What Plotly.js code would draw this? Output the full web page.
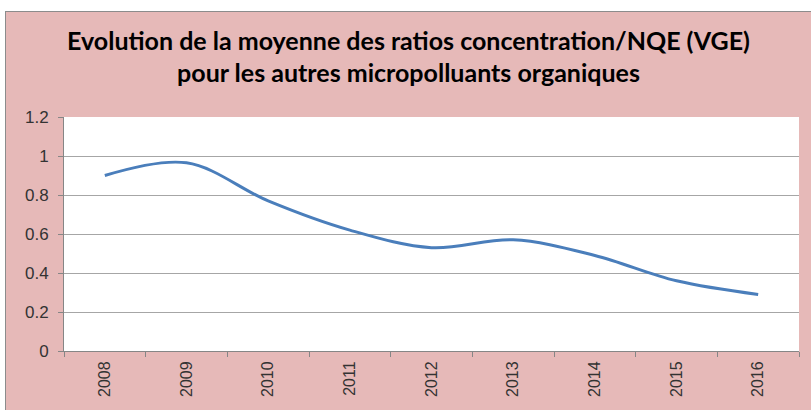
<!DOCTYPE html>
<html><head><meta charset="utf-8">
<script src="https://cdn.plot.ly/plotly-3.0.1.min.js"></script>
<style>
html,body{margin:0;padding:0;background:#fff;width:811px;height:410px;overflow:hidden;}
#chart{position:absolute;left:5px;top:11px;width:805px;height:398px;border-top:1px solid #8c8c8c;border-left:1px solid #8c8c8c;}
</style></head>
<body><div id="chart"></div>
<script>
const years = ['2008','2009','2010','2011','2012','2013','2014','2015','2016'];
const ratios = [0.90, 0.965, 0.77, 0.62, 0.53, 0.57, 0.49, 0.36, 0.29];
const yTicks = [0, 0.2, 0.4, 0.6, 0.8, 1, 1.2];
const yTickText = ['0','0.2','0.4','0.6','0.8','1','1.2'];
const titleText = 'Evolution de la moyenne des ratios concentration/NQE (VGE)<br>pour les autres micropolluants organiques';

const trace = {
  x: years, y: ratios, type: 'scatter', mode: 'lines',
  line: {color: '#4a7ebb', width: 3, shape: 'spline', smoothing: 1},
  hoverinfo: 'skip'
};
const layout = {
  width: 805, height: 398,
  margin: {l: 58, r: 12, t: 105, b: 59},
  paper_bgcolor: '#e6b9b8', plot_bgcolor: '#ffffff',
  showlegend: false,
  title: {text: titleText, x: 0.5, xanchor: 'center', y: 0.905, yanchor: 'top',
    font: {family: 'Lato, "Open Sans", sans-serif', size: 25, color: '#000', weight: 'bold'}},
  xaxis: {type: 'category', range: [-0.5, 8.5], tickson: 'boundaries', ticks: 'outside', ticklen: 5, tickcolor: '#868686',
    showline: true, linecolor: '#868686', showgrid: false, tickangle: -90, ticklabelstandoff: 3,
    tickfont: {family: '"Liberation Sans", Arial, sans-serif', size: 16, color: '#333'}, fixedrange: true},
  yaxis: {range: [0, 1.2], tickvals: yTicks, ticktext: yTickText, ticks: 'outside', ticklen: 5,
    tickcolor: '#868686', showline: true, linecolor: '#868686', showgrid: true, gridcolor: '#a6a6a6',
    gridwidth: 1, zeroline: false, ticklabelstandoff: 6,
    tickfont: {family: '"Liberation Sans", Arial, sans-serif', size: 17, color: '#333'}, fixedrange: true}
};
Plotly.newPlot('chart', [trace], layout, {staticPlot: true, displayModeBar: false});
</script></body></html>
